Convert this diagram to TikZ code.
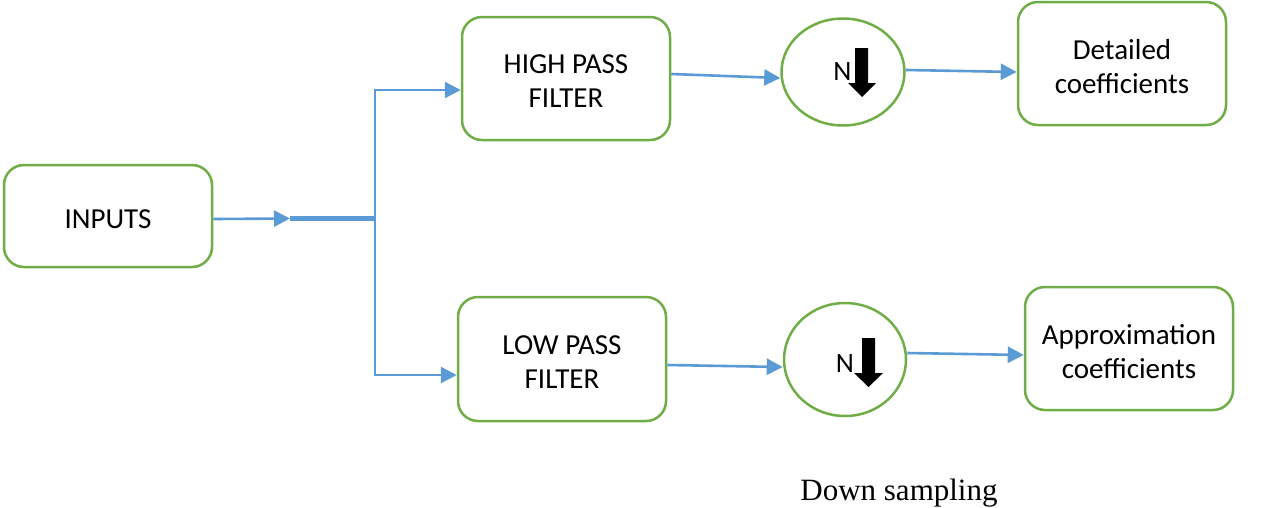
\documentclass[tikz,border=0pt]{standalone}
\usepackage{fontspec}
\setmainfont{Carlito}
\newfontfamily\capfont{Liberation Serif}
\usetikzlibrary{arrows.meta,shapes.geometric,calc}
\definecolor{boxgreen}{RGB}{112,173,71}
\definecolor{linkblue}{RGB}{91,155,213}
\tikzset{
  block/.style={draw=boxgreen, line width=2.5pt, rounded corners=20pt, fill=white,
    minimum width=208pt, inner sep=0pt},
  blocktext/.style={inner sep=0pt, align=center,
    font=\fontsize{29}{34}\selectfont},
  sampler/.style={draw=boxgreen, line width=2.5pt, ellipse, inner sep=0pt},
  link/.style={draw=linkblue, line width=2.6pt, -{Triangle[length=16pt,width=16pt]}},
  plainlink/.style={draw=linkblue, line width=2.6pt},
  trunk/.style={draw=linkblue, line width=4.5pt},
  ntext/.style={inner sep=0pt, font=\fontsize{28}{28}\selectfont},
}
\begin{document}
\begin{tikzpicture}[x=1pt,y=-1pt]
\useasboundingbox (0,0) rectangle (1263,507);

% filter bank blocks
\node[block, minimum height=102pt] (inputs) at (108,216) {};
\node[block, minimum height=123pt] (hpf) at (566,78.5) {};
\node[block, minimum height=124pt] (lpf) at (562,359) {};
\node[block, minimum height=123pt] (det) at (1122,63.5) {};
\node[block, minimum height=123pt] (app) at (1129,348.5) {};

\node[blocktext] (inputs-t) at ($(inputs.center)+(0,3)$) {INPUTS};
\node[blocktext] (hpf-t) at ($(hpf.center)+(0,2.5)$) {HIGH PASS\\FILTER};
\node[blocktext] (lpf-t) at ($(lpf.center)+(0,3)$) {LOW PASS\\FILTER};
\node[blocktext] (det-t) at ($(det.center)+(0,3)$) {Detailed\\coefficients};
\node[blocktext] (app-t) at ($(app.center)+(0,3)$) {Approximation\\coefficients};

% down-sampling stages
\node[sampler, minimum width=123pt, minimum height=107pt] (ds1) at (843,72) {};
\node[sampler, minimum width=122pt, minimum height=113pt] (ds2) at (845,359.5) {};

\node[ntext] (n1) at ($(ds1.center)+(-0.5,0)$) {N};
\fill[black, shift={(ds1.center)}]
  (12,-24) -- (25,-24) -- (25,11) -- (33,11) -- (19,25) -- (5,11) -- (12,11) -- cycle;
\node[ntext] (n2) at ($(ds2.center)+(0,4)$) {N};
\fill[black, shift={(ds2.center)}]
  (17,-21.5) -- (30,-21.5) -- (30,13.5) -- (38,13.5) -- (23.5,27.5) -- (9,13.5) -- (17,13.5) -- cycle;

% splitting the input into the two branches
\coordinate (split) at (290,218.5);
\coordinate (branch) at (375,218.5);
\draw[link] ([yshift=-3pt]inputs.east) -- (split);
\draw[trunk] (split) -- (branch);
\draw[plainlink, line cap=rect] (branch |- 0,90) -- (branch |- 0,375);
\draw[link] (branch |- 0,90) -- ([yshift=-11.5pt]hpf.west);
\draw[link] (branch |- 0,375) -- ([yshift=-16pt]lpf.west);

% filters to samplers to outputs
\draw[link] ([yshift=4.5pt]hpf.east) -- ([yshift=-6pt]ds1.west);
\draw[link] ([yshift=2pt]ds1.east) -- ([yshift=-8.5pt]det.west);
\draw[link] ([yshift=-6pt]lpf.east) -- ([yshift=-7.5pt]ds2.west);
\draw[link] ([yshift=6.5pt]ds2.east) -- ([yshift=-6.5pt]app.west);

\node[font=\capfont\fontsize{31}{31}\selectfont, inner sep=0pt] (caption) at (899,493) {Down sampling};
\end{tikzpicture}
\end{document}
